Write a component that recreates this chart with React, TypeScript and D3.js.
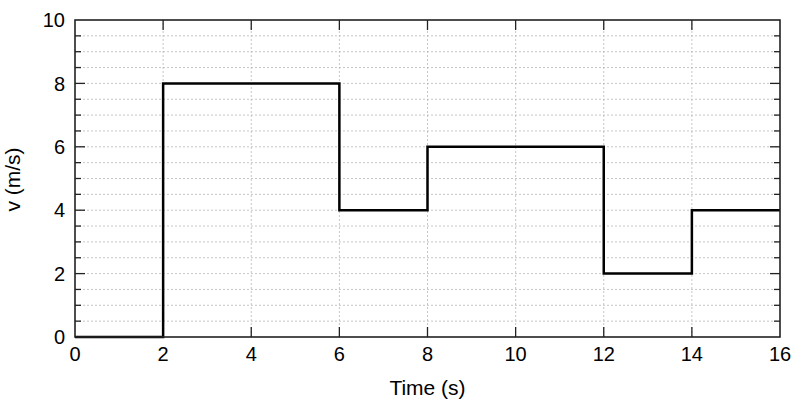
import React from "react";
import * as d3 from "d3";

const stepTimes = [0, 2, 6, 8, 12, 14, 16];
const stepValues = [0, 8, 4, 6, 2, 4, 4];
const xTicks = [0, 2, 4, 6, 8, 10, 12, 14, 16];
const yTicks = [0, 2, 4, 6, 8, 10];
const yMinor = d3.range(0, 10.001, 0.5);
const xLabel = "Time (s)";
const yLabel = "v (m/s)";

const W = 800, H = 400;
const M = { left: 75, right: 20, top: 20, bottom: 63 };

export default function App() {
  const x = d3.scaleLinear().domain([0, 16]).range([M.left, W - M.right]);
  const y = d3.scaleLinear().domain([0, 10]).range([H - M.bottom, M.top]);
  const pts: [number, number][] = stepTimes.map((t, i) => [t, stepValues[i]]);
  const line = d3.line<[number, number]>().x(d => x(d[0])).y(d => y(d[1])).curve(d3.curveStepAfter);
  const x0 = x(0), x1 = x(16), y0 = y(0), y1 = y(10);
  const font = "'Liberation Sans', Arial, Helvetica, sans-serif";
  const isMajor = (v: number) => Math.abs(v / 2 - Math.round(v / 2)) < 1e-6;
  return (
    <svg width={W} height={H} style={{ position: "absolute", left: 0, top: 0, background: "#fff" }} fontFamily={font}>
      <rect x={0} y={0} width={W} height={H} fill="#fff" />
      {yMinor.filter(v => v > 0 && v < 10).map(v => (
        <line key={"gy" + v} x1={x0} x2={x1} y1={y(v)} y2={y(v)} stroke="#b8b8b8" strokeWidth={0.8} strokeDasharray="2,2" />
      ))}
      {xTicks.filter(v => v > 0 && v < 16).map(v => (
        <line key={"gx" + v} x1={x(v)} x2={x(v)} y1={y0} y2={y1} stroke="#b8b8b8" strokeWidth={0.8} strokeDasharray="2,2" />
      ))}
      {yMinor.filter(v => v > 0 && v < 10).map(v => {
        const len = isMajor(v) ? 10 : 6;
        return (
          <g key={"ty" + v}>
            <line x1={x0} x2={x0 + len} y1={y(v)} y2={y(v)} stroke="#222" strokeWidth={1.3} />
            <line x1={x1} x2={x1 - len} y1={y(v)} y2={y(v)} stroke="#222" strokeWidth={1.3} />
          </g>
        );
      })}
      {xTicks.filter(v => v > 0 && v < 16).map(v => (
        <g key={"tx" + v}>
          <line x1={x(v)} x2={x(v)} y1={y0} y2={y0 - 10} stroke="#222" strokeWidth={1.3} />
          <line x1={x(v)} x2={x(v)} y1={y1} y2={y1 + 10} stroke="#222" strokeWidth={1.3} />
        </g>
      ))}
      <path d={line(pts) ?? ""} fill="none" stroke="#000" strokeWidth={2.5} />
      <rect x={x0} y={y1} width={x1 - x0} height={y0 - y1} fill="none" stroke="#222" strokeWidth={1.6} />
      {yTicks.map(v => (
        <text key={"ly" + v} x={x0 - 10} y={y(v)} dy="0.36em" textAnchor="end" fontSize={20} fill="#000">{v}</text>
      ))}
      {xTicks.map(v => (
        <text key={"lx" + v} x={x(v)} y={y0 + 24} textAnchor="middle" fontSize={20} fill="#000">{v}</text>
      ))}
      <text x={(x0 + x1) / 2} y={395} textAnchor="middle" fontSize={21} fill="#000">{xLabel}</text>
      <text transform={`translate(20,${(y0 + y1) / 2 + 1}) rotate(-90)`} textAnchor="middle" fontSize={21} fill="#000">{yLabel}</text>
    </svg>
  );
}
